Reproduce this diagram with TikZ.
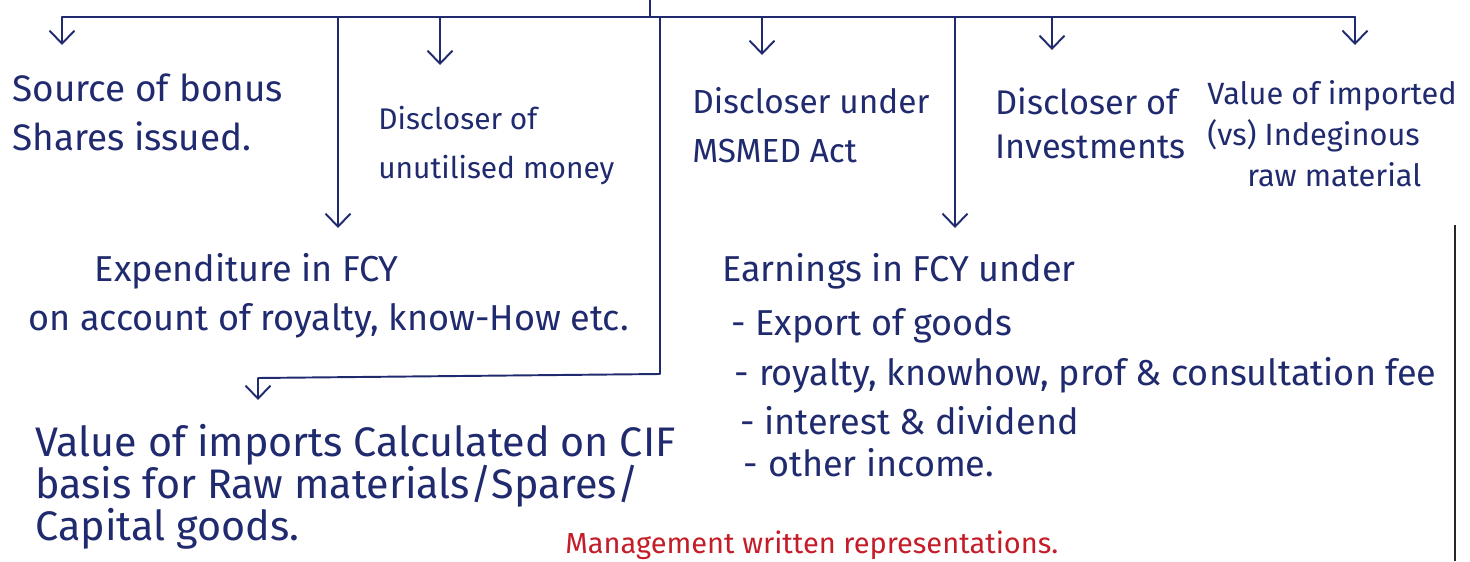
\documentclass[tikz,border=0pt]{standalone}
\usepackage{fontspec}
\setmainfont{Fira Sans}
\usetikzlibrary{arrows.meta}
\definecolor{inkBlue}{RGB}{32,42,110}
\definecolor{inkRed}{RGB}{196,28,40}

\begin{document}
\begin{tikzpicture}[
        x=0.02cm, y=-0.02cm,
        inkLine/.style={
            draw=inkBlue,
            line width=1.1pt,
            line cap=round,
            line join=round
        },
        branchArrow/.style={
            inkLine,
            -{Straight Barb[length=2.6mm,width=5mm]}
        },
        noteText/.style={
            text=inkBlue,
            anchor=north west,
            align=left,
            inner sep=0pt,
            font=\fontsize{19}{28}\selectfont
        },
        marginLine/.style={
            draw=black!85,
            line width=1pt
        }
    ]

        % Page area
        \path[use as bounding box, fill=white] (0,0) rectangle (1470,561);

        % Top branch bar
        \coordinate (rootTop) at (650,0);
        \coordinate (rootJoin) at (650,17);
        \coordinate (barLeft) at (62,17);
        \coordinate (barRight) at (1355,17);
        \coordinate (expenseJoin) at (338,17);
        \coordinate (unusedJoin) at (440,17);
        \coordinate (importsJoin) at (660,17);
        \coordinate (msmedJoin) at (762,17);
        \coordinate (earningsJoin) at (955,17);
        \coordinate (investJoin) at (1052,17);

        % First row of notes
        \node[
            noteText,
            font=\fontsize{21}{28}\selectfont
        ] (bonusNote) at (12,73) {
            Source of bonus\\
            Shares issued.
        };

        \node[
            noteText,
            font=\fontsize{17}{28}\selectfont
        ] (unusedNote) at (378,106) {
            Discloser of\\
            unutilised money
        };

        \node[noteText] (msmedNote) at (692,87) {
            Discloser under\\
            MSMED Act
        };

        \node[
            noteText,
            font=\fontsize{19.5}{25}\selectfont
        ] (investNote) at (995,87) {
            Discloser of\\
            Investments
        };

        \node[
            noteText,
            font=\fontsize{17.5}{23.5}\selectfont
        ] (importedNote) at (1207,80) {
            Value of imported\\
            (vs) Indeginous\\
            \hspace*{1.3em}raw material
        };

        % Second row of notes
        \node[
            noteText,
            font=\fontsize{20.5}{28}\selectfont
        ] (expenseNote) at (28,253) {
            \hspace*{1.85em}Expenditure in FCY\\
            on account of royalty, know-How etc.
        };

        \node[
            noteText,
            font=\fontsize{20.5}{28}\selectfont
        ] (earningsNote) at (722,253) {
            Earnings in FCY under\\[3pt]
            \hspace*{0.25em}- Export of goods\\
            \hspace*{0.35em}- royalty, knowhow, prof \& consultation fee\\
            \hspace*{0.5em}- interest \& dividend\\[-4pt]
            \hspace*{0.6em}- other income.
        };

        % Third row
        \node[
            noteText,
            font=\fontsize{23.5}{24}\selectfont
        ] (importsNote) at (35,424) {
            Value of imports Calculated on CIF\\
            basis for Raw materials/Spares/\\
            Capital goods.
        };

        \node[
            noteText,
            anchor=base west,
            text=inkRed,
            font=\fontsize{16.5}{20}\selectfont
        ] (representNote) at (565,553) {Management written representations.};

        % Connectors
        \draw[inkLine] (rootTop) -- (rootJoin);
        \draw[inkLine] (barLeft) -- (barRight);

        \draw[branchArrow, shorten >=0.56cm] (barLeft) -- (barLeft |- bonusNote.north);
        \draw[branchArrow, shorten >=0.82cm] (unusedJoin) -- (unusedJoin |- unusedNote.north);
        \draw[branchArrow, shorten >=0.64cm] (msmedJoin) -- (msmedJoin |- msmedNote.north);
        \draw[branchArrow, shorten >=0.74cm] (investJoin) -- (investJoin |- investNote.north);
        \draw[branchArrow, shorten >=0.7cm] (barRight) -- (barRight |- importedNote.north);

        \draw[branchArrow, shorten >=0.5cm] (expenseJoin) -- (expenseJoin |- expenseNote.north);
        \draw[branchArrow, shorten >=0.5cm] (earningsJoin) -- (earningsJoin |- earningsNote.north);

        \coordinate (importsCorner) at (660,374);
        \coordinate (importsTurn) at (258,378);
        \draw[branchArrow, shorten >=0.48cm]
            (importsJoin) -- (importsCorner) -- (importsTurn) -- (importsTurn |- importsNote.north);

        % Notebook margin
        \coordinate (marginTop) at (1455,225);
        \coordinate (marginBottom) at (1455,561);
        \draw[marginLine] (marginTop) -- (marginBottom);

    \end{tikzpicture}
\end{document}
